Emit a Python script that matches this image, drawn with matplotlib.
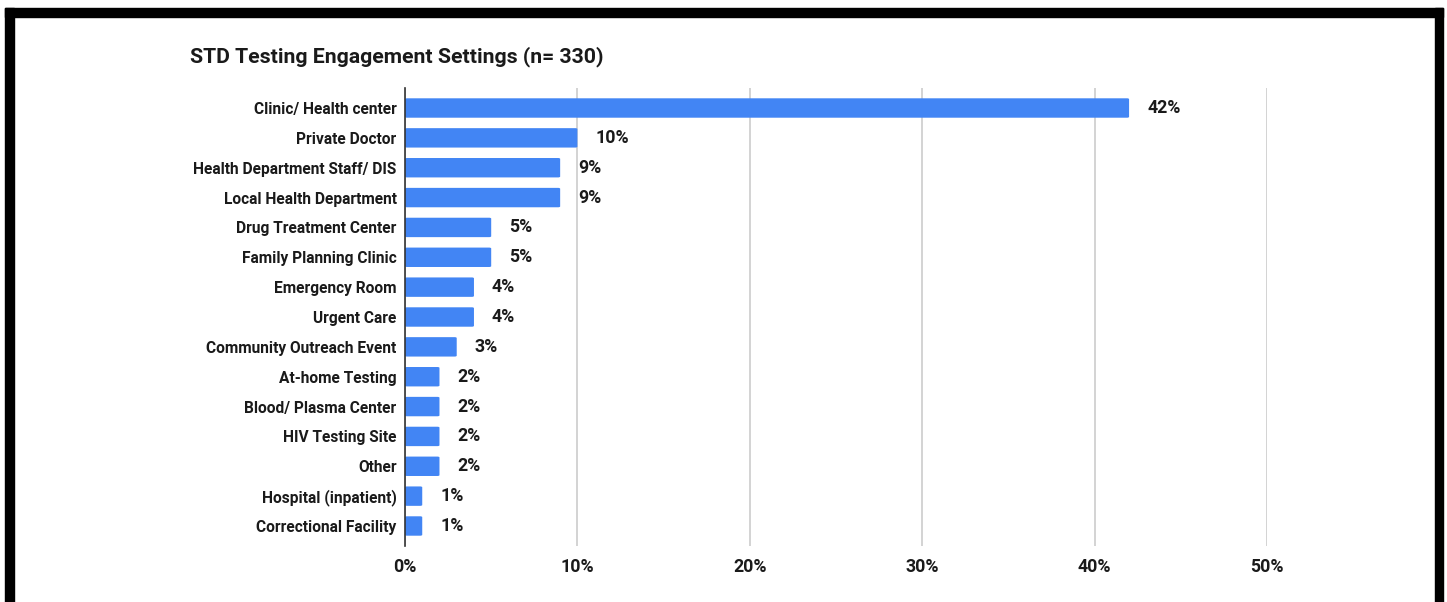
import matplotlib
matplotlib.use("Agg")
import matplotlib.pyplot as plt
from matplotlib.patches import FancyBboxPatch, Rectangle
from matplotlib.ticker import FuncFormatter

categories = [
    "Clinic/ Health center",
    "Private Doctor",
    "Health Department Staff/ DIS",
    "Local Health Department",
    "Drug Treatment Center",
    "Family Planning Clinic",
    "Emergency Room",
    "Urgent Care",
    "Community Outreach Event",
    "At-home Testing",
    "Blood/ Plasma Center",
    "HIV Testing Site",
    "Other",
    "Hospital (inpatient)",
    "Correctional Facility",
]
values = [42, 10, 9, 9, 5, 5, 4, 4, 3, 2, 2, 2, 2, 1, 1]
x_ticks = [0, 10, 20, 30, 40, 50]
title = "STD Testing Engagement Settings (n= 330)"

plt.rcParams["font.family"] = ["Roboto", "DejaVu Sans"]

W, H = 1447, 602
fig = plt.figure(figsize=(W / 100, H / 100), dpi=100)
fig.patch.set_facecolor("white")

# frame around the figure (top, left, right)
fig.patches.append(Rectangle((5 / W, 0), 9 / W, 1 - 8 / H, transform=fig.transFigure,
                             color="black", zorder=10))
fig.patches.append(Rectangle((5 / W, 1 - 17 / H), (1443 - 5) / W, 9 / H,
                             transform=fig.transFigure, color="black", zorder=10))
fig.patches.append(Rectangle((1435 / W, 0), 8 / W, 1 - 8 / H, transform=fig.transFigure,
                             color="black", zorder=10))

left, right = 405, 1267
top, bottom = 88, 546
ax = fig.add_axes([left / W, 1 - bottom / H, (right - left) / W, (bottom - top) / H])

n = len(categories)
ypos = list(range(n))
bar_h = 0.65
color = "#4285F4"
bars = ax.barh(ypos, values, height=bar_h, color=color, edgecolor="none")

# replace plain rectangles with slightly rounded ones
for b in bars:
    x0, y0 = b.get_x(), b.get_y()
    w, h = b.get_width(), b.get_height()
    b.set_visible(False)
    fb = FancyBboxPatch((x0, y0), w, h,
                        boxstyle="round,pad=0,rounding_size=0.12",
                        mutation_aspect=1 / 4.0,
                        facecolor=color, edgecolor="none", zorder=3)
    ax.add_patch(fb)

ax.set_xlim(0, 50)
ax.set_ylim(n - 1 + 0.67, -0.67)
ax.set_yticks(ypos)
ax.set_yticklabels(categories, fontsize=11.2, fontweight="bold", color="#1a1a1a")
ax.set_xticks(x_ticks)
ax.xaxis.set_major_formatter(FuncFormatter(lambda v, p: f"{int(v)}%"))
for lab in ax.get_xticklabels():
    lab.set_fontsize(12.8)
    lab.set_fontweight("bold")
    lab.set_color("#1a1a1a")

ax.tick_params(axis="y", length=0, pad=6)
ax.tick_params(axis="x", length=0, pad=9)
ax.grid(axis="x", color="#cccccc", linewidth=1.2, zorder=0)
ax.set_axisbelow(True)
for s in ["top", "right", "bottom"]:
    ax.spines[s].set_visible(False)
ax.spines["left"].set_color("#333333")
ax.spines["left"].set_linewidth(1.2)
ax.spines["left"].set_zorder(4)

for y, v in zip(ypos, values):
    ax.annotate(f"{v}%", (v, y), xytext=(13, 0), textcoords="offset points",
                ha="left", va="center", fontsize=12.8, fontweight="bold",
                color="#1a1a1a")

fig.text(190 / W, 1 - 57 / H, title, ha="left", va="center",
         fontsize=15.3, fontweight="bold", color="#1a1a1a")

fig.savefig("out.png", dpi=100, facecolor="white")
